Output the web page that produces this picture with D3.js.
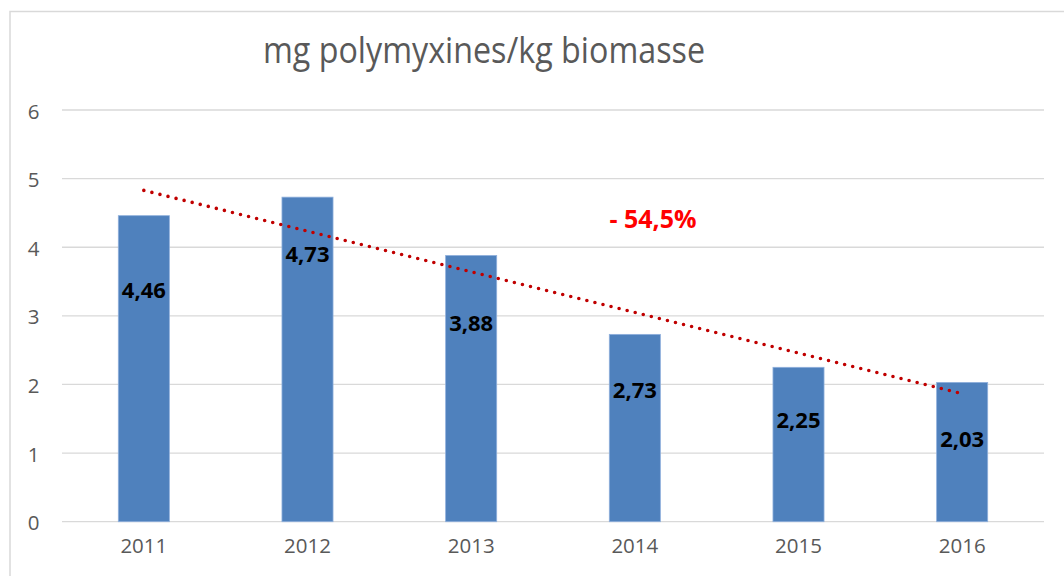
<!DOCTYPE html>
<html>
<head>
<meta charset="utf-8">
<script src="https://cdn.jsdelivr.net/npm/d3@7"></script>
<style>
  html, body { margin: 0; padding: 0; background: #fff; }
  svg { display: block; }
</style>
</head>
<body>
<svg id="chart" width="1064" height="576"></svg>
<script>
// ---- data ----
const years = ["2011", "2012", "2013", "2014", "2015", "2016"];
const values = [4.46, 4.73, 3.88, 2.73, 2.25, 2.03];
const valueLabels = ["4,46", "4,73", "3,88", "2,73", "2,25", "2,03"];
// baseline of each data label, in value units (labels were placed by hand)
const labelAnchors = [3.26, 3.79, 2.78, 1.80, 1.36, 1.09];
const yTicks = [0, 1, 2, 3, 4, 5, 6];
const title = "mg polymyxines/kg biomasse";
const annotation = "- 54,5%";

// ---- layout ----
const svg = d3.select("#chart");
const font = "'Open Sans', 'DejaVu Sans', sans-serif";
const grey = "#595959";

// chart border (extends past the right/bottom of the picture)
svg.append("rect")
  .attr("x", 10).attr("y", 11.5)
  .attr("width", 1100).attr("height", 600)
  .attr("fill", "none").attr("stroke", "#d9d9d9").attr("stroke-width", 1.5);

const x = d3.scaleBand()
  .domain(years)
  .range([62, 1044])
  .paddingInner(0.688)
  .paddingOuter(0.344);

const y = d3.scaleLinear().domain([0, 6]).range([521.7, 110]);

// gridlines
svg.append("g").selectAll("line")
  .data(yTicks)
  .join("line")
  .attr("x1", 62).attr("x2", 1044)
  .attr("y1", d => y(d)).attr("y2", d => y(d))
  .attr("stroke", "#d9d9d9").attr("stroke-width", 1.3);

// y axis labels
const yAxis = d3.axisLeft(y).tickValues(yTicks).tickSize(0).tickPadding(0)
  .tickFormat(d => String(d));
const gy = svg.append("g").attr("transform", "translate(38.5,1.5)").call(yAxis);
gy.select(".domain").remove();
gy.selectAll("text")
  .attr("font-family", font).attr("font-size", 20.5).attr("fill", grey)
  .attr("text-anchor", "middle").attr("dx", -5);

// x axis labels
const xAxis = d3.axisBottom(x).tickSize(0).tickPadding(0);
const gx = svg.append("g").attr("transform", "translate(0,538)").call(xAxis);
gx.select(".domain").remove();
gx.selectAll("text")
  .attr("font-family", font).attr("font-size", 20.5).attr("fill", grey);

// bars
svg.append("g").selectAll("rect")
  .data(values)
  .join("rect")
  .attr("x", (d, i) => x(years[i]))
  .attr("y", d => y(d))
  .attr("width", x.bandwidth())
  .attr("height", d => y(0) - y(d))
  .attr("fill", "#4f81bd")
  .attr("stroke", "#8fb0dc").attr("stroke-width", 0.8);

// linear trendline (least squares over the series)
const n = values.length;
const xs = d3.range(1, n + 1);
const mx = d3.mean(xs), my = d3.mean(values);
const slope = d3.sum(xs, (xi, i) => (xi - mx) * (values[i] - my)) / d3.sum(xs, xi => (xi - mx) ** 2);
const intercept = my - slope * mx;
const cx = yr => x(yr) + x.bandwidth() / 2;
svg.append("line")
  .attr("x1", cx(years[0])).attr("y1", y(intercept + slope * 1))
  .attr("x2", cx(years[n - 1])).attr("y2", y(intercept + slope * n))
  .attr("stroke", "#c00000").attr("stroke-width", 3.6)
  .attr("stroke-linecap", "round")
  .attr("stroke-dasharray", "0 8.3");

// data labels
svg.append("g").selectAll("text")
  .data(valueLabels)
  .join("text")
  .attr("x", (d, i) => cx(years[i]))
  .attr("y", (d, i) => y(labelAnchors[i]))
  .attr("text-anchor", "middle")
  .attr("font-family", font).attr("font-weight", "bold")
  .attr("font-size", 22).attr("fill", "#000")
  .text(d => d);

// annotation
svg.append("text")
  .attr("x", 653).attr("y", 228)
  .attr("text-anchor", "middle")
  .attr("font-family", font).attr("font-weight", "bold")
  .attr("font-size", 25).attr("fill", "#ff0000")
  .text(annotation);

// title
svg.append("text")
  .attr("x", 484).attr("y", 63)
  .attr("text-anchor", "middle")
  .attr("font-family", font)
  .attr("font-size", 36).attr("fill", grey)
  .attr("textLength", 442).attr("lengthAdjust", "spacingAndGlyphs")
  .text(title);
</script>
</body>
</html>
